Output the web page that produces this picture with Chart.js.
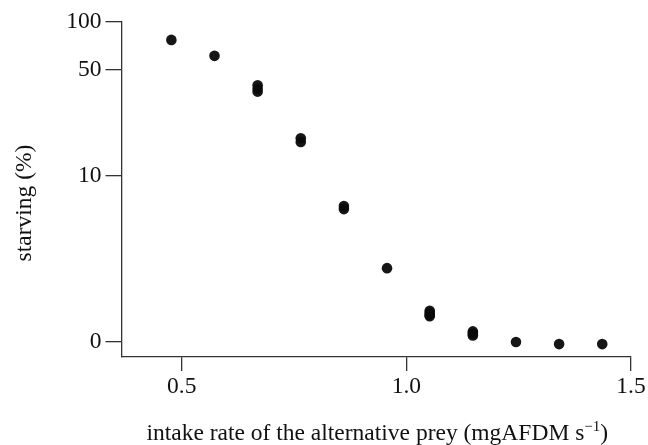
<!DOCTYPE html>
<html>
<head>
<meta charset="utf-8">
<script src="https://cdn.jsdelivr.net/npm/chart.js@4"></script>
<style>
  body { margin: 0; background: #fff; }
  canvas { display: block; }
</style>
</head>
<body>
<canvas id="chart" width="648" height="445"></canvas>
<script>
// intake rate (mgAFDM s-1) and % starving
const intake = [0.477, 0.573, 0.669, 0.669, 0.669, 0.765, 0.765, 0.861, 0.861, 0.957,
                1.052, 1.052, 1.052, 1.052, 1.148, 1.148, 1.148, 1.244, 1.340, 1.436];
const starving = [77, 61, 39.5, 37.5, 36, 17.9, 16.9, 6.1, 5.8, 1.9,
                  0.57, 0.52, 0.48, 0.45, 0.165, 0.13, 0.1, 0, -0.03, -0.03];
const yTickLabels = [0, 10, 50, 100];
const xTickLabels = [0.5, 1.0, 1.5];

// y axis is drawn on log10(p + 1)
const tf = p => Math.log10(p + 1);

const points = intake.map((x, i) => ({ x: x, y: tf(starving[i]) }));

const serif = "'Liberation Serif', 'Times New Roman', serif";
const ink = "#333";
const fontSize = 23.5;

// axis titles drawn by hand so the superscript works
const titles = {
    id: "titles",
    afterDraw(chart) {
        const ctx = chart.ctx;
        const area = chart.chartArea;
        const big = fontSize + "px " + serif;
        const small = "15px " + serif;
        ctx.save();
        ctx.fillStyle = "#111";
        ctx.textBaseline = "alphabetic";

        // x title
        const main = "intake rate of the alternative prey (mgAFDM s";
        const sup = "\u22121";
        ctx.font = big;
        const w1 = ctx.measureText(main).width;
        const w3 = ctx.measureText(")").width;
        ctx.font = small;
        const w2 = ctx.measureText(sup).width;
        const x = (area.left + area.right) / 2 - (w1 + w2 + w3) / 2 + 1;
        const base = 440;
        ctx.textAlign = "left";
        ctx.font = big;
        ctx.fillText(main, x, base);
        ctx.font = small;
        ctx.fillText(sup, x + w1, base - 9);
        ctx.font = big;
        ctx.fillText(")", x + w1 + w2, base);

        // y title
        ctx.translate(31, 203);
        ctx.rotate(-Math.PI / 2);
        ctx.textAlign = "center";
        ctx.font = big;
        ctx.fillText("starving (%)", 0, 0);
        ctx.restore();
    }
};

new Chart(document.getElementById("chart"), {
    type: "scatter",
    data: {
        datasets: [{
            data: points,
            pointRadius: 5.3,
            pointHoverRadius: 5.3,
            backgroundColor: "rgba(10,10,10,0.95)",
            borderWidth: 0
        }]
    },
    options: {
        responsive: false,
        animation: false,
        layout: { padding: { top: 22, right: 17, left: 0, bottom: 0 } },
        plugins: { legend: { display: false }, tooltip: { enabled: false } },
        scales: {
            x: {
                type: "linear",
                min: 0.366,
                max: 1.5,
                afterBuildTicks: s => { s.ticks = xTickLabels.map(v => ({ value: v })); },
                afterFit: s => { s.height = 88; },
                border: { color: ink, width: 1.3 },
                grid: { drawOnChartArea: false, drawTicks: true, tickLength: 14, color: ink, lineWidth: 1.3 },
                ticks: {
                    color: "#111",
                    padding: 2,
                    font: { family: serif, size: fontSize },
                    callback: v => v.toFixed(1)
                }
            },
            y: {
                type: "linear",
                min: -0.094,
                max: tf(100),
                afterBuildTicks: s => { s.ticks = yTickLabels.map(v => ({ value: tf(v) })); },
                afterFit: s => { s.width = 121.5; },
                border: { color: ink, width: 1.3 },
                grid: { drawOnChartArea: false, drawTicks: true, tickLength: 16, color: ink, lineWidth: 1.3 },
                ticks: {
                    color: "#111",
                    padding: 4,
                    font: { family: serif, size: fontSize },
                    callback: (v, i) => String(yTickLabels[i])
                }
            }
        }
    },
    plugins: [titles]
});
</script>
</body>
</html>
